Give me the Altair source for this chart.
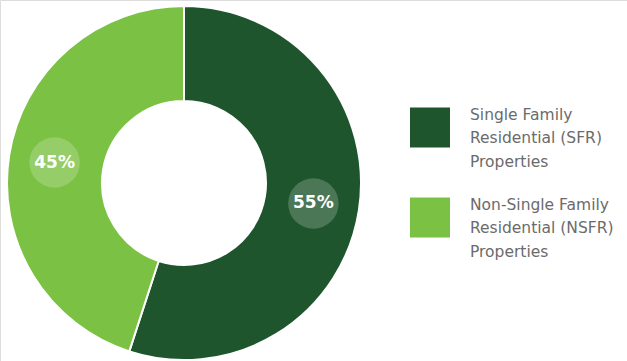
import altair as alt
import pandas as pd

categories = ["Single Family\nResidential (SFR)\nProperties", "Non-Single Family\nResidential (NSFR)\nProperties"]
values = [55, 45]
labels = ["55%", "45%"]
order = [1, 2]
colors = ["#1e552c", "#7bc143"]

df = pd.DataFrame({"category": categories, "value": values, "label": labels, "order": order})

CX, CY, RL = 184, 183, 131

color_enc = alt.Color(
    "category:N",
    sort=categories,
    scale=alt.Scale(domain=categories, range=colors),
    legend=None,
)

base = alt.Chart(df)

arcs = base.mark_arc(radius=177, innerRadius=82, stroke="white", strokeWidth=2).encode(
    x=alt.value(CX),
    y=alt.value(CY),
    theta=alt.Theta("value:Q", stack=True),
    order=alt.Order("order:Q"),
    color=color_enc,
)

pos = (
    base.transform_joinaggregate(total="sum(value)")
    .transform_window(cum="sum(value)", sort=[alt.SortField("order")])
    .transform_calculate(mid="(datum.cum - datum.value / 2) / datum.total * 2 * PI")
    .transform_calculate(
        px=f"{CX} + {RL} * sin(datum.mid)",
        py=f"{CY} - {RL} * cos(datum.mid)",
    )
)

circles = pos.mark_circle(size=2550, color="white", opacity=0.2).encode(
    x=alt.X("px:Q", scale=None, axis=None),
    y=alt.Y("py:Q", scale=None, axis=None),
)

texts = pos.mark_text(font="DejaVu Sans", fontSize=17, fontWeight="bold", color="white").encode(
    x=alt.X("px:Q", scale=None, axis=None),
    y=alt.Y("py:Q", scale=None, axis=None),
    text="label:N",
)

leg_y = alt.Y("order:O", scale=alt.Scale(type="point", range=[127.5, 217.5], padding=0), axis=None)

leg_squares = base.mark_square(size=1600, opacity=1).encode(
    x=alt.value(430),
    y=leg_y,
    color=color_enc,
)

leg_texts = (
    base.transform_calculate(lines="split(datum.category, '\\n')")
    .mark_text(
        align="left",
        baseline="top",
        dy=-20,
        lineHeight=23.5,
        font="DejaVu Sans",
        fontSize=15.5,
        color="#6b6b6b",
    )
    .encode(x=alt.value(470), y=leg_y, text="lines:N")
)

chart = (
    alt.layer(arcs, circles, texts, leg_squares, leg_texts)
    .resolve_scale(x="independent", y="independent")
    .properties(width=627, height=361, autosize=alt.AutoSizeParams(type="none"), padding=0)
    .configure_view(stroke=None)
    .configure(background="white")
)

chart.save("out.html", embed_options={"renderer": "svg", "actions": False})
